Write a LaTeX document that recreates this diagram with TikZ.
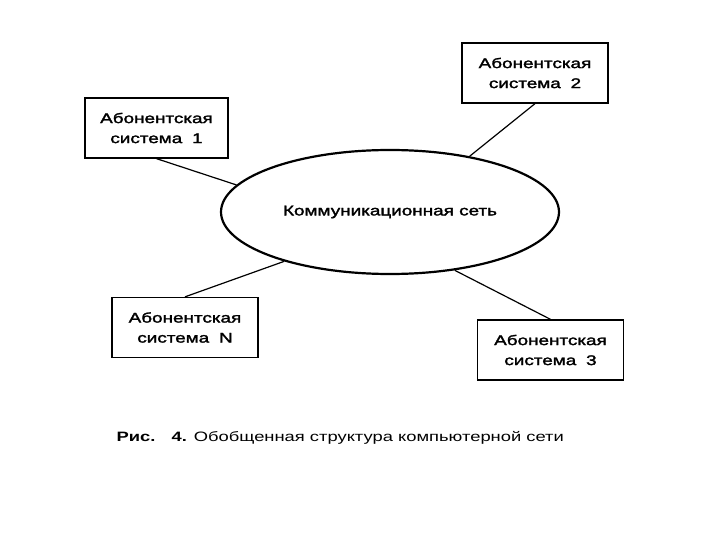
\documentclass[tikz,border=0pt]{standalone}
\usepackage{fontspec}
\setmainfont{Liberation Sans}[FakeStretch=1.35]
\newfontfamily\boxfont{Liberation Sans}[FakeStretch=1.35,FakeBold=2]
\usetikzlibrary{shapes.geometric}

\tikzset{
  abon/.style={draw,line width=1.3pt,minimum width=146pt,minimum height=60pt,
    align=center,font=\boxfont\fontsize{14}{20}\selectfont,inner sep=0pt},
  svyaz/.style={line width=1.2pt}
}

\begin{document}
\begin{tikzpicture}[x=1pt,y=-1pt]
    \useasboundingbox[fill=white] (0,0) rectangle (720,540);
    % communication network
    \node[ellipse,draw,line width=2.2pt,minimum width=338pt,minimum height=124pt,
      font=\boxfont\fontsize{14}{20}\selectfont] (set) at (390,212) {Коммуникационная сеть};

    % subscriber systems
    \node[abon,minimum width=143pt] (as1) at (156.5,128) {Абонентская\\система\hspace{0.7em}1};
    \node[abon] (as2) at (535,73) {Абонентская\\система\hspace{0.7em}2};
    \node[abon] (asN) at (185,327.5) {Абонентская\\система\hspace{0.7em}N};
    \node[abon] (as3) at (550.5,350) {Абонентская\\система\hspace{0.7em}3};

    \draw[svyaz] (as1.south) -- (set.170);
    \draw[svyaz] (as2.south) -- (set.35);
    \draw[svyaz] (asN.north) -- (set.205);
    \draw[svyaz] (as3.north) -- (set.318);

    \node[anchor=west,font=\fontsize{13.6}{16}\selectfont] (podpis) at (113,438)
      {\textbf{Рис.}\hspace{1.2em}\textbf{4.} Обобщенная структура компьютерной сети};
\end{tikzpicture}
\end{document}
